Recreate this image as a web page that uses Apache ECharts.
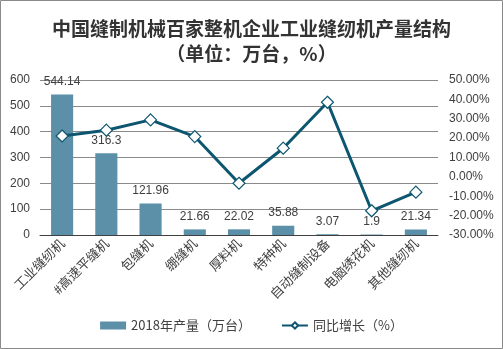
<!DOCTYPE html>
<html><head><meta charset="utf-8">
<script src="https://cdn.jsdelivr.net/npm/echarts@6/dist/echarts.min.js"></script>
<style>html,body{margin:0;padding:0;background:#fff}#c{width:503px;height:349px}</style>
</head><body><div id="c"></div>
<script>
const categories = ['工业缝纫机','#高速平缝机','包缝机','绷缝机','厚料机','特种机','自动缝制设备','电脑绣花机','其他缝纫机'];
const output2018 = [544.14, 316.3, 121.96, 21.66, 22.02, 35.88, 3.07, 1.9, 21.34];
const yoyGrowth = [21.1, 24.1, 29.4, 20.8, -3.3, 14.8, 38.5, -17.5, -7.9];
const seriesNames = ['2018年产量（万台）','同比增长（%）'];

const font = '"Noto Sans CJK SC", "Liberation Sans", sans-serif';
const chart = echarts.init(document.getElementById('c'), null, {renderer:'canvas'});
chart.setOption({
  animation:false,
  backgroundColor:'#fff',
  textStyle:{fontFamily:font},
  title:{
    text:'中国缝制机械百家整机企业工业缝纫机产量结构\n（单位：万台，%）',
    left:'center', top:11,
    textStyle:{fontSize:19, fontWeight:'bold', color:'#333', lineHeight:25, fontFamily:font}
  },
  graphic:[{type:'rect', shape:{x:0.5,y:0.5,width:502,height:348}, style:{fill:'none', stroke:'#8a8a8a', lineWidth:1}, silent:true}],
  legend:{
    bottom:12, left:'center', itemGap:30, itemWidth:26, itemHeight:8,
    textStyle:{fontSize:13, color:'#404040', fontFamily:font},
    data:[{name:seriesNames[0], icon:'rect'},{name:seriesNames[1]}]
  },
  grid:{left:40, right:65, top:80, bottom:114},
  xAxis:{
    type:'category', data:categories,
    axisLine:{lineStyle:{color:'#404040', width:1}},
    axisTick:{show:false},
    axisLabel:{rotate:45, fontSize:13, color:'#404040', interval:0, margin:6, fontFamily:font}
  },
  yAxis:[
    {type:'value', min:0, max:600, interval:100,
     axisLine:{show:false}, axisTick:{show:false},
     axisLabel:{fontSize:12, color:'#404040', margin:10, fontFamily:'"Liberation Sans", sans-serif'},
     splitLine:{lineStyle:{color:'#8a8a8a', width:1}}},
    {type:'value', min:-30, max:50, interval:10,
     axisLine:{show:false}, axisTick:{show:false},
     axisLabel:{fontSize:12, color:'#404040', margin:11, fontFamily:'"Liberation Sans", sans-serif',
       formatter:v=>v.toFixed(2)+'%'},
     splitLine:{show:false}}
  ],
  series:[
    {name:seriesNames[0], type:'bar', data:output2018, barWidth:'50%', yAxisIndex:0,
     itemStyle:{color:'#5b90a8'},
     label:{show:true, position:'top', distance:7, fontSize:12, color:'#404040', fontFamily:'"Liberation Sans", sans-serif'}},
    {name:seriesNames[1], type:'line', data:yoyGrowth, yAxisIndex:1,
     symbol:'diamond', symbolSize:12,
     lineStyle:{color:'#0d5670', width:3},
     itemStyle:{color:'#fff', borderColor:'#0d5670', borderWidth:1.2},
     z:5}
  ]
});
</script></body></html>
